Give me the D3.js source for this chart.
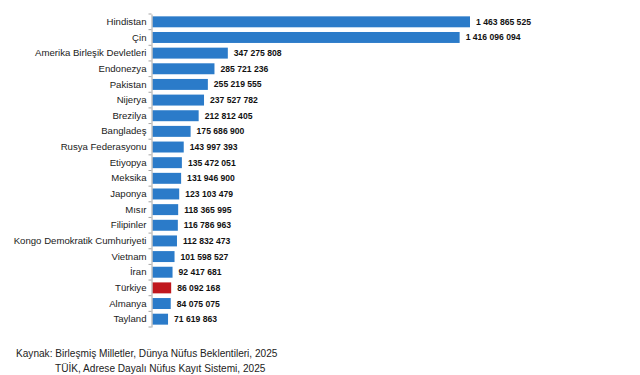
<!DOCTYPE html>
<html><head><meta charset="utf-8">
<script src="https://cdn.jsdelivr.net/npm/d3@7"></script>
<style>body{margin:0;background:#fff}svg{display:block}</style>
</head><body>
<script>
const countries = ["Hindistan","Çin","Amerika Birleşik Devletleri","Endonezya","Pakistan","Nijerya","Brezilya","Bangladeş","Rusya Federasyonu","Etiyopya","Meksika","Japonya","Mısır","Filipinler","Kongo Demokratik Cumhuriyeti","Vietnam","İran","Türkiye","Almanya","Tayland"];
const populations = [1463865525,1416096094,347275808,285721236,255219555,237527782,212812405,175686900,143997393,135472051,131946900,123103479,118365995,116786963,112832473,101598527,92417681,86092168,84075075,71619863];
const highlight = "Türkiye";
const sourceLines = ["Kaynak: Birleşmiş Milletler, Dünya Nüfus Beklentileri, 2025","TÜİK, Adrese Dayalı Nüfus Kayıt Sistemi, 2025"];

const W = 640, H = 375;
const svg = d3.select("body").append("svg").attr("width", W).attr("height", H);
const font = "'Liberation Sans', Arial, sans-serif";

const y = d3.scaleBand().domain(countries).range([14, 327]).paddingInner(0.3).paddingOuter(0.15);
const x = d3.scaleLinear().domain([0, d3.max(populations)]).range([152.5, 470]);
const fmt = d3.formatLocale({decimal: ",", thousands: " ", grouping: [3], currency: ["", ""]}).format(",d");

const data = countries.map((c, i) => ({c, v: populations[i]}));

svg.append("g").selectAll("rect").data(data).join("rect")
  .attr("x", x(0)).attr("y", d => y(d.c))
  .attr("width", d => x(d.v) - x(0)).attr("height", y.bandwidth())
  .attr("fill", d => d.c === highlight ? "#c0181e" : "#2b7bc9");

// axis
const ax = svg.append("g").attr("transform", `translate(${x(0) - 1},0)`)
  .call(d3.axisLeft(y).tickSize(0).tickPadding(5));
ax.select(".domain").attr("stroke", "#a6a6a6");
ax.selectAll("text").attr("font-family", font).attr("font-size", "9.6px").attr("fill", "#222");
const step = y.step();
const bounds = d3.range(countries.length + 1).map(i => y.range()[0] + i * step);
ax.selectAll(".bt").data(bounds).join("line").attr("class", "bt")
  .attr("x1", -3).attr("x2", 0).attr("y1", d => d).attr("y2", d => d)
  .attr("stroke", "#a6a6a6");

svg.append("g").selectAll("text").data(data).join("text")
  .attr("x", d => x(d.v) + 6).attr("y", d => y(d.c) + y.bandwidth() / 2)
  .attr("dy", "0.35em").attr("font-family", font).attr("font-size", "8.6px")
  .attr("font-weight", "bold").attr("fill", "#111").text(d => fmt(d.v));

svg.append("text").attr("x", 16).attr("y", 357).attr("font-family", font).attr("font-size", "10.1px").attr("fill", "#222").text(sourceLines[0]);
svg.append("text").attr("x", 55).attr("y", 372).attr("font-family", font).attr("font-size", "10.1px").attr("fill", "#222").text(sourceLines[1]);
</script>
</body></html>
